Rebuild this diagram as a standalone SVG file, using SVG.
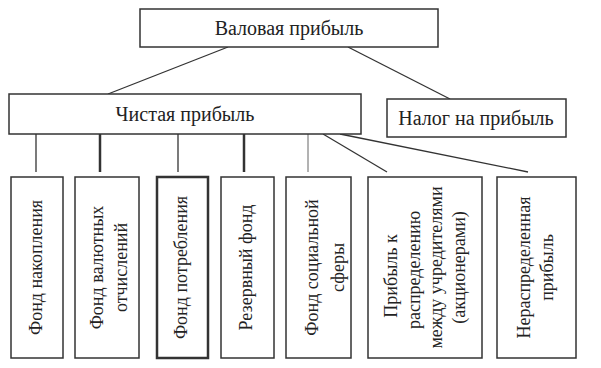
<svg xmlns="http://www.w3.org/2000/svg" width="601" height="368" viewBox="0 0 601 368">
<style>
.box{fill:#fff;stroke:#333;stroke-width:1.5}
.thick{stroke-width:2.5}
.t{font-family:"Liberation Serif","Times New Roman",serif;fill:#222;text-anchor:middle}
.h{font-size:20px}
.v{font-size:18px}
.ln{stroke:#333;stroke-width:1.3;fill:none}
</style>
<rect width="601" height="368" fill="#fff"/>
<g id="connectors">
<line class="ln" x1="228" y1="47" x2="108" y2="94"/>
<line class="ln" x1="348" y1="47" x2="450" y2="99"/>
<line class="ln" x1="36" y1="134" x2="36" y2="172"/>
<line class="ln" x1="100" y1="134" x2="100" y2="172" style="stroke-width:2.5"/>
<line class="ln" x1="178" y1="134" x2="178" y2="172"/>
<line class="ln" x1="244" y1="134" x2="244" y2="172" style="stroke-width:2.5"/>
<line class="ln" x1="308" y1="134" x2="308" y2="172" style="stroke-width:0.9;stroke:#555"/>
<line class="ln" x1="323" y1="134" x2="387" y2="172"/>
<line class="ln" x1="340" y1="134" x2="528" y2="172"/>
</g>
<g id="n-gross">
<rect class="box" x="140" y="9" width="298" height="38"/>
<text class="t h" x="289" y="35">Валовая прибыль</text>
</g>
<g id="n-net">
<rect class="box" x="9" y="94" width="352" height="40"/>
<text class="t h" x="185" y="121">Чистая прибыль</text>
</g>
<g id="n-tax">
<rect class="box" x="387" y="99" width="179" height="38"/>
<text class="t h" x="476" y="125">Налог на прибыль</text>
</g>
<g id="n-f1">
<rect class="box" x="11" y="177" width="52" height="181"/>
<text class="t v" transform="translate(42,267.5) rotate(-90)">Фонд накопления</text>
</g>
<g id="n-f2">
<rect class="box" x="75" y="177" width="64" height="181"/>
<text class="t v" transform="translate(103,267.5) rotate(-90)">Фонд валютных</text>
<text class="t v" transform="translate(127,267.5) rotate(-90)">отчислений</text>
</g>
<g id="n-f3">
<rect class="box thick" x="157" y="177" width="51" height="181"/>
<text class="t v" transform="translate(187,267.5) rotate(-90)">Фонд потребления</text>
</g>
<g id="n-f4">
<rect class="box" x="221" y="177" width="53" height="181"/>
<text class="t v" transform="translate(252,267.5) rotate(-90)">Резервный фонд</text>
</g>
<g id="n-f5">
<rect class="box" x="286" y="177" width="65" height="181"/>
<text class="t v" transform="translate(318,267.5) rotate(-90)">Фонд социальной</text>
<text class="t v" transform="translate(344,267.5) rotate(-90)">сферы</text>
</g>
<g id="n-f6">
<rect class="box" x="368" y="177" width="114" height="181"/>
<text class="t v" transform="translate(397,276) rotate(-90)">Прибыль к</text>
<text class="t v" transform="translate(420,270) rotate(-90)">распределению</text>
<text class="t v" transform="translate(442,267.5) rotate(-90)">между учредителями</text>
<text class="t v" transform="translate(465,267.5) rotate(-90)">(акционерами)</text>
</g>
<g id="n-f7">
<rect class="box" x="497" y="177" width="79" height="181"/>
<text class="t v" transform="translate(530,267.5) rotate(-90)">Нераспределенная</text>
<text class="t v" transform="translate(553,267.5) rotate(-90)">прибыль</text>
</g>
</svg>
